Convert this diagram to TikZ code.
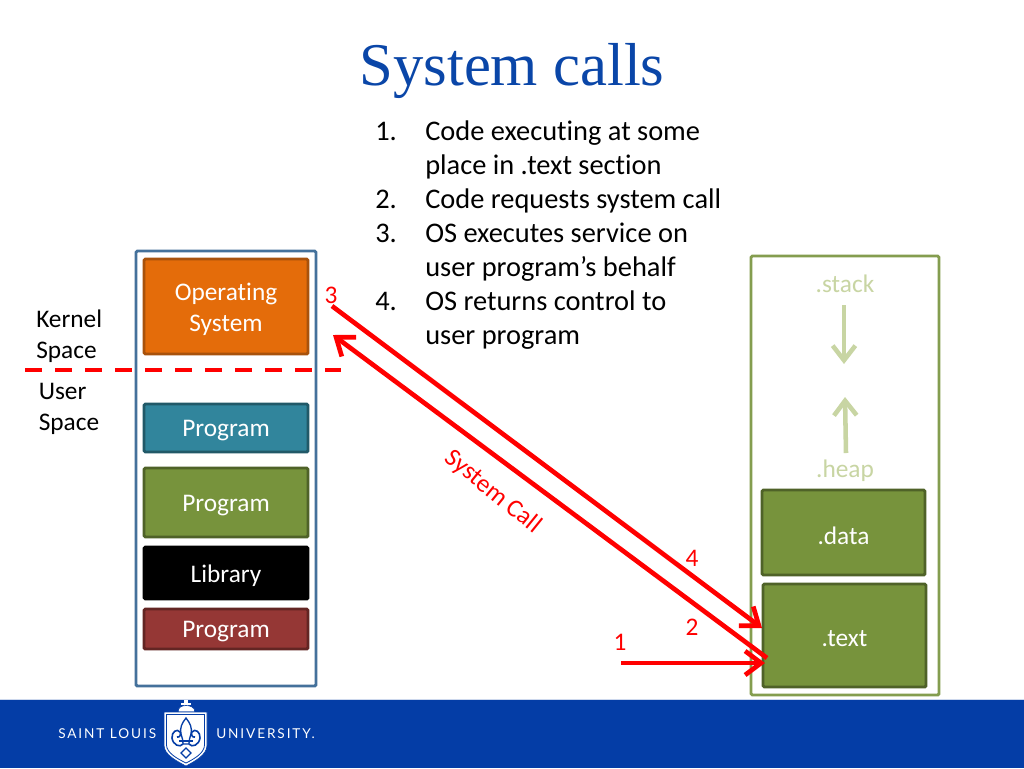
\documentclass[tikz,border=0pt]{standalone}
\usepackage{fontspec}
\setmainfont[Ligatures=NoCommon]{Carlito}
\newfontfamily\titlefont{Liberation Serif}
\newfontfamily\logofont[LetterSpace=14]{Lato}
\usetikzlibrary{arrows.meta,calc}
\definecolor{slublue}{HTML}{043DA6}
\definecolor{titleblue}{HTML}{0A46A8}
\definecolor{lred}{HTML}{FF0000}
\definecolor{palegreen}{HTML}{C8D5A3}
\definecolor{contblue}{HTML}{44719B}
\definecolor{contgreen}{HTML}{849D4F}
\definecolor{osfill}{RGB}{228,108,10}
\definecolor{osline}{RGB}{168,82,12}
\definecolor{tealfill}{RGB}{49,133,156}
\definecolor{tealline}{RGB}{33,89,104}
\definecolor{greenfill}{RGB}{119,147,60}
\definecolor{greenline}{RGB}{79,98,40}
\definecolor{redfill}{RGB}{149,55,53}
\definecolor{redline}{RGB}{99,37,35}
\tikzset{
  x=0.75pt,y=-0.75pt,
  box/.style={draw,line width=2.2pt,rounded corners=1pt,inner sep=0pt},
  boxtext/.style={inner sep=0pt,yshift=-2.2pt,text=white,align=center,font=\fontsize{19}{23.25}\selectfont},
  container/.style={draw,line width=2.2pt,rounded corners=1pt,inner sep=0pt},
  plain/.style={inner sep=0pt,font=\fontsize{19}{23.25}\selectfont,align=left},
  listline/.style={inner sep=0pt,anchor=base west,font=\fontsize{21.3}{25}\selectfont,text=black},
  rednum/.style={inner sep=0pt,text=lred,font=\fontsize{19}{23}\selectfont},
  redarrow/.style={draw=lred,line width=3.5pt,-{Straight Barb[length=12pt,width=18pt,line width=3.5pt]}},
  palearrow/.style={draw=palegreen,line width=3.4pt,-{Straight Barb[length=11pt,width=17pt,line width=3.4pt]}},
  paletext/.style={inner sep=0pt,text=palegreen,font=\fontsize{19}{23}\selectfont},
  logotext/.style={inner sep=0pt,text=white,font=\logofont\fontsize{10.2}{12}\selectfont},
}
\begin{document}
\begin{tikzpicture}
\useasboundingbox (0,0) rectangle (1024,768);
\fill[white] (0,0) rectangle (1024,768);
% footer
\fill[slublue] (0,699) rectangle (1024,768);
\draw[white!80!slublue,line width=0.5pt] (0,699) -- (1024,699);
% title
\node[inner sep=0pt,text=titleblue,font=\titlefont\fontsize{45.5}{50}\selectfont] (title) at (512,71) {System calls};
% list
\node[listline] (n1) at (375,140) {1.};
\node[listline] (l1) at (425,140) {Code executing at some};
\node[listline] (l1b) at (425,174) {place in .text section};
\node[listline] (n2) at (375,208) {2.};
\node[listline] (l2) at (425,208) {Code requests system call};
\node[listline] (n3) at (375,242) {3.};
\node[listline] (l3) at (425,242) {OS executes service on};
\node[listline] (l3b) at (425,276) {user program’s behalf};
\node[listline] (n4) at (375,310) {4.};
\node[listline] (l4) at (425,310) {OS returns control to};
\node[listline] (l4b) at (425,344) {user program};
% left container
\node[container,draw=contblue,minimum width=135pt,minimum height=326.25pt] (left) at (226,468.5) {};
\node[box,fill=osfill,draw=osline,minimum width=123pt,minimum height=71.25pt,label={[boxtext]center:Operating\\System}] (os) at (226,306.5) {};
\node[box,fill=tealfill,draw=tealline,minimum width=123pt,minimum height=36pt,label={[boxtext]center:Program}] (prog1) at (226,428) {};
\node[box,fill=greenfill,draw=greenline,minimum width=123pt,minimum height=51.75pt,label={[boxtext]center:Program}] (prog2) at (226,502.5) {};
\node[box,fill=black,draw=black,minimum width=123pt,minimum height=39pt,label={[boxtext]center:Library}] (lib) at (226,573) {};
\node[box,fill=redfill,draw=redline,minimum width=123pt,minimum height=30pt,label={[boxtext]center:Program}] (prog3) at (226,629) {};
% right container
\node[container,draw=contgreen,minimum width=141pt,minimum height=329.25pt] (right) at (845,475.5) {};
\node[paletext] (stack) at (845,284) {.stack};
\node[paletext] (heap) at (845,471) {.heap};
\coordinate (sa) at (844,305);
\coordinate (sb) at (844,364);
\coordinate (ha) at (846,453);
\coordinate (hb) at (845,397);
\draw[palearrow] (sa) -- (sb);
\draw[palearrow] (ha) -- (hb);
\node[box,fill=greenfill,draw=greenline,minimum width=122.25pt,minimum height=63.75pt,label={[boxtext]center:.data}] (data) at (843.5,532.5) {};
\node[box,fill=greenfill,draw=greenline,minimum width=122.25pt,minimum height=77.25pt,label={[boxtext]center:.text}] (text) at (844.5,635.5) {};
% kernel / user
\node[plain,anchor=west] (kernel) at (36,336.5) {Kernel\\Space};
\node[plain,anchor=west] (user) at (38.5,408.5) {User\\Space};
% dashed divider
\coordinate (da) at (25,370);
\coordinate (db) at (341,370);
\draw[lred,line width=3.4pt,dash pattern=on 12.8pt off 9.7pt] (da) -- (db);
% arrows
\coordinate (a1s) at (621,663);
\coordinate (a1e) at (765,663);
\coordinate (a2s) at (767,658);
\coordinate (a2e) at (333,335);
\coordinate (a3s) at (332,306);
\coordinate (a3e) at (762,628);
\draw[redarrow] (a3s) -- (a3e);
\draw[redarrow] (a2s) -- (a2e);
\draw[redarrow] (a1s) -- (a1e);
\node[rednum] (r3) at (331,295) {3};
\node[rednum] (r4) at (692,558) {4};
\node[rednum] (r2) at (692,627) {2};
\node[rednum] (r1) at (620,642) {1};
\node[rednum,rotate=-39] (syscall) at (493,492) {System Call};
% logo
\node[logotext,anchor=west] (saint) at (58,734) {SAINT LOUIS};
\node[logotext,anchor=west] (univ) at (216,734) {UNIVERSITY.};
% cross and crown
\fill[white] (184,700) rectangle (188,707);
\fill[white] (181,702.5) rectangle (191,705);
\fill[white,draw=slublue,line width=0.5pt] (178,712) .. controls (178,707) and (182,705.5) .. (186,705.5) .. controls (190,705.5) and (195,707) .. (195,712) -- cycle;
% shield
\fill[white,draw=slublue,line width=0.4pt] (164,712) -- (207,712) -- (207,745)
  .. controls (207,755) and (195,761) .. (186,766) .. controls (177,761) and (164,755) .. (164,745) -- cycle;
\draw[slublue,line width=0.6pt] (166.5,714.5) -- (204.5,714.5) -- (204.5,745)
  .. controls (204.5,753) and (194,759) .. (186,763) .. controls (178,759) and (166.5,753) .. (166.5,745) -- cycle;
% fleur-de-lis
\draw[slublue,line width=1pt] (186,718) .. controls (182,723) and (179.5,728) .. (181,734) .. controls (182,737) and (183,740) .. (183,744) -- (189,744) .. controls (189,740) and (190,737) .. (191,734) .. controls (192.5,728) and (190,723) .. (186,718) -- cycle;
\draw[slublue,line width=1.2pt] (183,744) .. controls (180,748) and (173,745) .. (172,738) .. controls (171.5,732) and (177,728) .. (180,732) .. controls (181.5,734) and (179.5,738) .. (177,737);
\draw[slublue,line width=1.2pt] (189,744) .. controls (192,748) and (199,745) .. (200,738) .. controls (200.5,732) and (195,728) .. (192,732) .. controls (190.5,734) and (192.5,738) .. (195,737);
\draw[slublue,line width=1pt] (179,741) -- (193,741);
\draw[slublue,line width=1pt] (186,748) -- (191,753) -- (186,758) -- (181,753) -- cycle;
\end{tikzpicture}
\end{document}
